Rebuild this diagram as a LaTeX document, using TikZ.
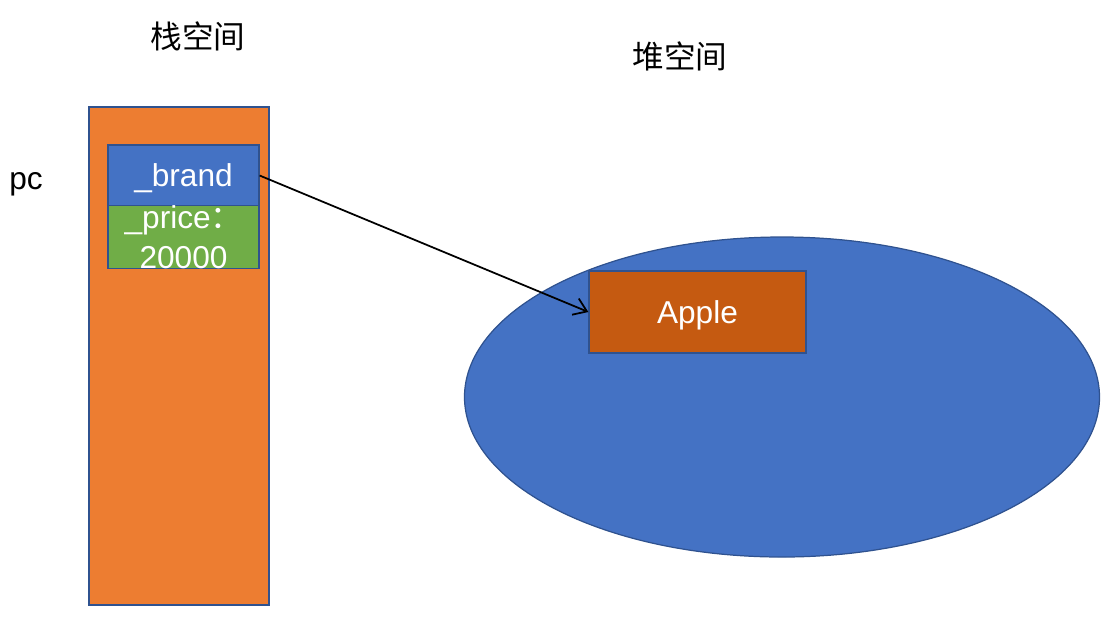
\documentclass[tikz,border=0pt]{standalone}
\usepackage{fontspec}
\setmainfont{Liberation Sans}
\newfontfamily\cjk{Noto Sans CJK SC}
\usetikzlibrary{arrows.meta, shapes.geometric}

\definecolor{stackorange}{HTML}{ED7D31}
\definecolor{fieldblue}{HTML}{4472C4}
\definecolor{fieldgreen}{HTML}{70AD47}
\definecolor{objbrown}{HTML}{C55A11}
\definecolor{edgeblue}{HTML}{2F528F}

\begin{document}
\begin{tikzpicture}[x=0.2mm, y=-0.2mm,
  box/.style={draw=edgeblue, line width=0.7pt, inner sep=0pt, text=white},
  label/.style={font=\fontsize{18}{20}\selectfont, text depth=0pt}]
  \useasboundingbox (0,0) rectangle (1108,625);

  \node (stacklabel) [label] at (198,35) {\cjk 栈空间};
  \node (heaplabel) [label] at (680,55) {\cjk 堆空间};
  \node (pc) [label] at (26,181) {pc};

  \node (stack) [box, fill=stackorange, minimum width=36mm, minimum height=99.6mm] at (179,356) {};
  \node (brand) [box, label, fill=fieldblue, minimum width=30.2mm, minimum height=12.2mm] at (183.5,175.5) {\_brand};
  \node (price) [box, label, fill=fieldgreen, minimum width=30.2mm, minimum height=12.4mm, align=center,
    font=\fontsize{18}{23}\selectfont] at (183.5,237) {\_price{\cjk ：}\\20000};

  \node (heap) [box, ellipse, fill=fieldblue, minimum width=127mm, minimum height=64mm] at (782,397) {};
  \node (apple) [box, label, fill=objbrown, minimum width=43.4mm, minimum height=16.4mm] at (697.5,312) {Apple};

  \draw [-{Straight Barb[length=2.5mm, width=3.5mm]}, line width=1pt] (brand.east) -- (apple.west);
\end{tikzpicture}
\end{document}
